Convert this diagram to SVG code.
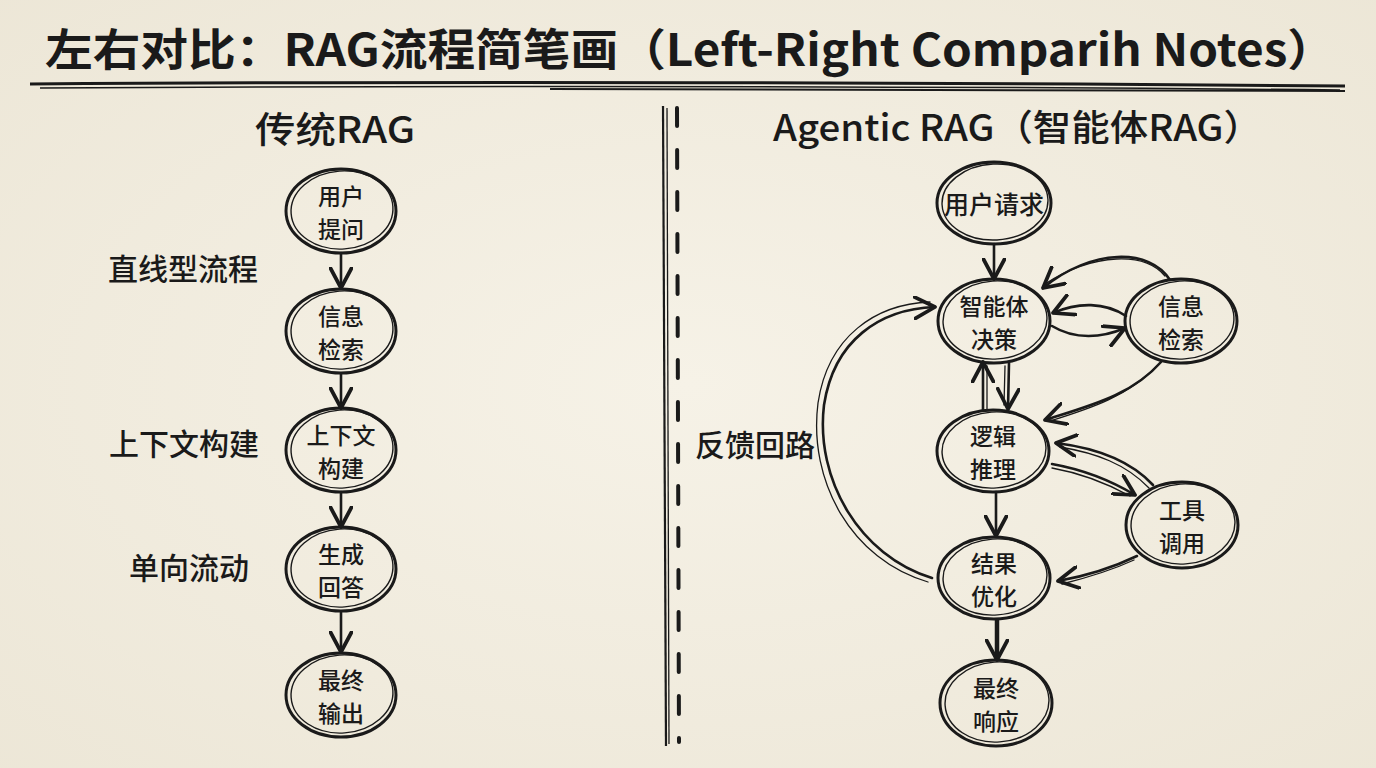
<svg xmlns="http://www.w3.org/2000/svg" width="1376" height="768" viewBox="0 0 1376 768">
<defs>
<style>
text{font-family:"Noto Sans CJK SC","Noto Sans",sans-serif;fill:#1a1a1a;}
.title{font-size:44px;font-weight:bold;}
.hdr{font-size:36px;font-weight:500;}
.side{font-size:30px;font-weight:500;}
.nt{font-size:23px;font-weight:500;text-anchor:middle;dominant-baseline:central;}
.n1{fill:none;stroke:#1a1a1a;stroke-width:3;}
.n2{fill:none;stroke:#1a1a1a;stroke-width:1.4;}
.c{fill:none;stroke:#1a1a1a;stroke-width:2.6;stroke-linecap:round;}
.c2{fill:none;stroke:#1a1a1a;stroke-width:1.3;stroke-linecap:round;}
</style>
<marker id="ah" markerUnits="userSpaceOnUse" markerWidth="24" markerHeight="24" viewBox="0 0 18 18" refX="16" refY="9" orient="auto">
<path d="M1,1 L16,9 L1,17" fill="none" stroke="#1a1a1a" stroke-width="2.8" stroke-linejoin="round" stroke-linecap="round"/>
</marker>
<radialGradient id="bg" cx="50%" cy="50%" r="75%">
<stop offset="0" stop-color="#f6f2e7"/>
<stop offset="1" stop-color="#ece6d6"/>
</radialGradient>
</defs>
<rect width="1376" height="768" fill="url(#bg)"/>

<g id="title">
<text class="title" x="45" y="66" textLength="1290" lengthAdjust="spacingAndGlyphs">左右对比：RAG流程简笔画（Left-Right Comparih Notes）</text>
<path d="M30,84 Q600,80 1345,86" fill="none" stroke="#1a1a1a" stroke-width="3"/>
<path d="M40,88 Q700,84 1340,90" fill="none" stroke="#1a1a1a" stroke-width="1.5"/>
<path d="M550,89 L1345,91" fill="none" stroke="#1a1a1a" stroke-width="2"/>
</g>

<g id="divider">
<path d="M663,106 L666,746" fill="none" stroke="#1a1a1a" stroke-width="2.2"/>
<path d="M667,108 L669,744" fill="none" stroke="#1a1a1a" stroke-width="1.3"/>
<path d="M677,108 L679,742" fill="none" stroke="#1a1a1a" stroke-width="4" stroke-dasharray="18 24" stroke-linecap="round"/>
</g>

<g id="left-header"><text class="hdr" x="255" y="143" textLength="160" lengthAdjust="spacingAndGlyphs">传统RAG</text></g>
<g id="right-header"><text class="hdr" x="773" y="141" textLength="489" lengthAdjust="spacingAndGlyphs">Agentic RAG（智能体RAG）</text></g>

<g id="labels">
<text class="side" x="183" y="280" text-anchor="middle">直线型流程</text>
<text class="side" x="184" y="455" text-anchor="middle">上下文构建</text>
<text class="side" x="189" y="579" text-anchor="middle">单向流动</text>
<text class="side" x="755" y="456" text-anchor="middle">反馈回路</text>
</g>

<g id="connectors">
<path class="c" d="M341,253 L341,288" marker-end="url(#ah)"/>
<path class="c" d="M341,374 L341,408" marker-end="url(#ah)"/>
<path class="c" d="M341,492 L341,527" marker-end="url(#ah)"/>
<path class="c" d="M341,612 L341,652" marker-end="url(#ah)"/>
<path class="c" d="M994,244 L994,279" marker-end="url(#ah)"/>
<path class="c" d="M1170,280 C1150,248 1092,248 1043,288" marker-end="url(#ah)"/>
<path class="c2" d="M1165,276 C1145,252 1095,252 1045,284"/>
<path class="c" d="M1126,316 C1105,302 1078,302 1053,313" marker-end="url(#ah)"/>
<path class="c" d="M1052,326 C1075,340 1102,338 1125,328" marker-end="url(#ah)"/>
<path class="c" d="M983,409 L983,362" marker-end="url(#ah)"/>
<path class="c2" d="M987,409 L987,366"/>
<path class="c" d="M1009,363 L1008,409" marker-end="url(#ah)"/>
<path class="c2" d="M1005,366 L1004,405"/>
<path class="c" d="M1161,362 C1132,395 1092,405 1045,420" marker-end="url(#ah)"/>
<path class="c2" d="M1157,366 C1128,396 1092,408 1050,421"/>
<path class="c" d="M1153,485 C1130,460 1096,448 1056,443" marker-end="url(#ah)"/>
<path class="c2" d="M1149,488 C1126,464 1096,453 1060,447"/>
<path class="c" d="M1052,464 C1080,469 1110,480 1135,495" marker-end="url(#ah)"/>
<path class="c2" d="M1052,468 C1080,473 1108,484 1130,496"/>
<path class="c" d="M996,492 L996,536" marker-end="url(#ah)"/>
<path class="c" d="M1137,556 C1112,568 1086,576 1058,581" marker-end="url(#ah)"/>
<path class="c2" d="M1134,560 C1110,571 1086,578 1062,584"/>
<path d="M997,620 L997,660" fill="none" stroke="#1a1a1a" stroke-width="4.5" marker-end="url(#ah)"/>
<path class="c" d="M932,578 C860,556 815,480 824,405 C834,340 880,309 935,307" marker-end="url(#ah)"/>
<path class="c2" d="M928,582 C852,560 808,482 818,403 C828,336 876,304 930,302"/>
</g>

<g id="l-user">
<ellipse class="n1" cx="341" cy="211" rx="55" ry="42"/>
<ellipse class="n2" cx="342" cy="210" rx="51" ry="39" transform="rotate(-4 342 210)"/>
<text class="nt" x="341" y="195">用户<tspan x="341" dy="33">提问</tspan></text>
</g>
<g id="l-retrieve">
<ellipse class="n1" cx="341" cy="331" rx="55" ry="42"/>
<ellipse class="n2" cx="342" cy="330" rx="51" ry="39" transform="rotate(-4 342 330)"/>
<text class="nt" x="341" y="315">信息<tspan x="341" dy="33">检索</tspan></text>
</g>
<g id="l-context">
<ellipse class="n1" cx="341" cy="450" rx="55" ry="42"/>
<ellipse class="n2" cx="342" cy="449" rx="51" ry="39" transform="rotate(-4 342 449)"/>
<text class="nt" x="341" y="434">上下文<tspan x="341" dy="33">构建</tspan></text>
</g>
<g id="l-generate">
<ellipse class="n1" cx="341" cy="569" rx="55" ry="42"/>
<ellipse class="n2" cx="342" cy="568" rx="51" ry="39" transform="rotate(-4 342 568)"/>
<text class="nt" x="341" y="553">生成<tspan x="341" dy="33">回答</tspan></text>
</g>
<g id="l-output">
<ellipse class="n1" cx="341" cy="695" rx="55" ry="42"/>
<ellipse class="n2" cx="342" cy="694" rx="51" ry="39" transform="rotate(-4 342 694)"/>
<text class="nt" x="341" y="679">最终<tspan x="341" dy="33">输出</tspan></text>
</g>

<g id="r-user">
<ellipse class="n1" cx="994" cy="203" rx="57" ry="41"/>
<ellipse class="n2" cx="995" cy="202" rx="53" ry="38" transform="rotate(-3 995 202)"/>
<text class="nt" x="994" y="203" style="font-size:25px">用户请求</text>
</g>
<g id="r-agent">
<ellipse class="n1" cx="994" cy="321" rx="56" ry="42"/>
<ellipse class="n2" cx="995" cy="320" rx="52" ry="39" transform="rotate(-4 995 320)"/>
<text class="nt" x="994" y="305">智能体<tspan x="994" dy="33">决策</tspan></text>
</g>
<g id="r-retrieve">
<ellipse class="n1" cx="1181" cy="321" rx="56" ry="42"/>
<ellipse class="n2" cx="1182" cy="320" rx="52" ry="39" transform="rotate(-4 1182 320)"/>
<text class="nt" x="1181" y="305">信息<tspan x="1181" dy="33">检索</tspan></text>
</g>
<g id="r-reason">
<ellipse class="n1" cx="993" cy="451" rx="56" ry="41"/>
<ellipse class="n2" cx="994" cy="450" rx="52" ry="38" transform="rotate(-4 994 450)"/>
<text class="nt" x="993" y="435">逻辑<tspan x="993" dy="33">推理</tspan></text>
</g>
<g id="r-tool">
<ellipse class="n1" cx="1182" cy="525" rx="56" ry="43"/>
<ellipse class="n2" cx="1183" cy="524" rx="52" ry="40" transform="rotate(-4 1183 524)"/>
<text class="nt" x="1182" y="509">工具<tspan x="1182" dy="33">调用</tspan></text>
</g>
<g id="r-refine">
<ellipse class="n1" cx="994" cy="578" rx="56" ry="41"/>
<ellipse class="n2" cx="995" cy="577" rx="52" ry="38" transform="rotate(-4 995 577)"/>
<text class="nt" x="994" y="562">结果<tspan x="994" dy="33">优化</tspan></text>
</g>
<g id="r-final">
<ellipse class="n1" cx="996" cy="703" rx="56" ry="43"/>
<ellipse class="n2" cx="997" cy="702" rx="52" ry="40" transform="rotate(-4 997 702)"/>
<text class="nt" x="996" y="687">最终<tspan x="996" dy="33">响应</tspan></text>
</g>
</svg>
